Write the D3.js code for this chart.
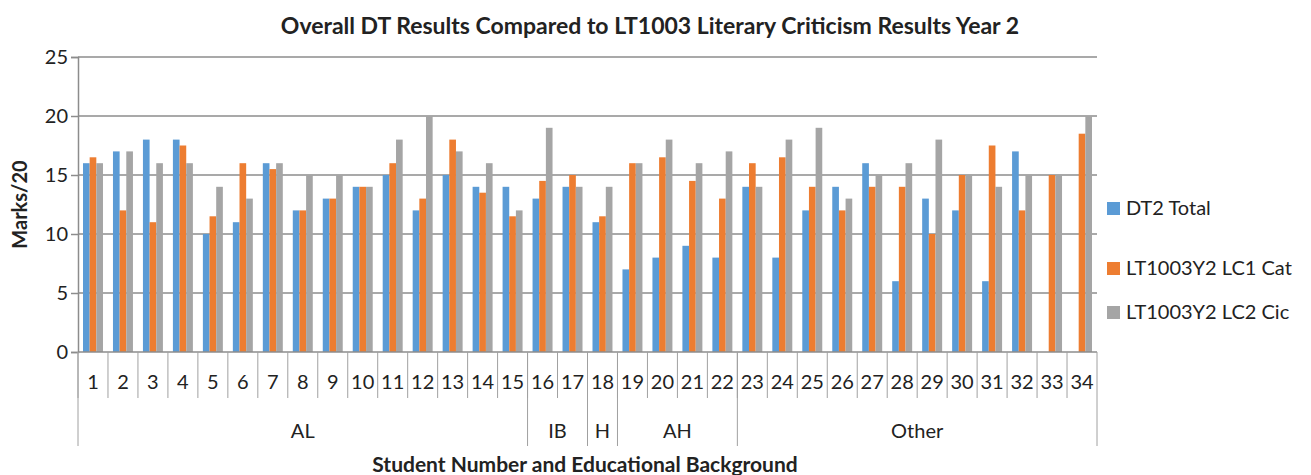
<!DOCTYPE html>
<html>
<head>
<meta charset="utf-8">
<script src="https://cdn.jsdelivr.net/npm/d3@7"></script>
<style>
body { margin: 0; background: #fff; }
text { font-family: Lato, "Open Sans", sans-serif; }
</style>
</head>
<body>
<svg width="1311" height="475"></svg>
<script>
var students = d3.range(1, 35).map(String);
var dt2Total = [16,17,18,18,10,11,16,12,13,14,15,12,15,14,14,13,14,11,7,8,9,8,14,8,12,14,16,6,13,12,6,17,0,0];
var lc1Cat = [16.5,12,11,17.5,11.5,16,15.5,12,13,14,16,13,18,13.5,11.5,14.5,15,11.5,16,16.5,14.5,13,16,16.5,14,12,14,14,10,15,17.5,12,15,18.5];
var lc2Cic = [16,17,16,16,14,13,16,15,15,14,18,20,17,16,12,19,14,14,16,18,16,17,14,18,19,13,15,16,18,15,14,15,15,20];
var seriesNames = ["DT2 Total", "LT1003Y2 LC1 Cat", "LT1003Y2 LC2 Cic"];
var colors = ["#5b9bd5", "#ed7d31", "#a5a5a5"];
var groups = [
  { name: "AL", from: 1, to: 15 },
  { name: "IB", from: 16, to: 17 },
  { name: "H", from: 18, to: 18 },
  { name: "AH", from: 19, to: 22 },
  { name: "Other", from: 23, to: 34 }
];
var yTicks = [0, 5, 10, 15, 20, 25];

var svg = d3.select("svg");
var pLeft = 78, pRight = 1097, pTop = 57, pBottom = 352;

var x = d3.scaleBand().domain(students).range([pLeft, pRight]).paddingInner(0).paddingOuter(0);
var y = d3.scaleLinear().domain([0, 25]).range([pBottom, pTop]);
var inner = x.bandwidth() / 4.5;
var xs = d3.scaleBand().domain([0, 1, 2]).range([inner * 0.75, x.bandwidth() - inner * 0.75]);

// title
svg.append("text")
  .attr("x", 650).attr("y", 34)
  .attr("text-anchor", "middle")
  .attr("font-size", "23px").attr("font-weight", "bold")
  .attr("fill", "#222")
  .text("Overall DT Results Compared to LT1003 Literary Criticism Results Year 2");

// gridlines
svg.append("g").selectAll("line")
  .data(yTicks.filter(function (d) { return d > 0; }))
  .enter().append("line")
  .attr("x1", pLeft).attr("x2", pRight)
  .attr("y1", function (d) { return y(d); }).attr("y2", function (d) { return y(d); })
  .attr("stroke", "#8c8c8c").attr("stroke-width", 1.5);

// y axis
var yAxis = svg.append("g")
  .attr("transform", "translate(" + pLeft + ",0)")
  .call(d3.axisLeft(y).tickValues(yTicks).tickSize(7).tickPadding(3));
yAxis.select(".domain").attr("stroke", "#8c8c8c").attr("stroke-width", 1.5);
yAxis.selectAll(".tick line").attr("stroke", "#8c8c8c").attr("stroke-width", 1.5);
yAxis.selectAll("text").attr("font-size", "20px").attr("fill", "#222")
  .attr("font-family", "Lato, 'Open Sans', sans-serif");

svg.append("text")
  .attr("transform", "translate(27," + ((pTop + pBottom) / 2) + ") rotate(-90)")
  .attr("text-anchor", "middle")
  .attr("font-size", "20px").attr("font-weight", "bold").attr("fill", "#222")
  .text("Marks/20");

// bars
var series = [dt2Total, lc1Cat, lc2Cic];
series.forEach(function (vals, si) {
  svg.append("g").selectAll("rect")
    .data(vals)
    .enter().append("rect")
    .attr("x", function (d, i) { return x(students[i]) + xs(si); })
    .attr("y", function (d) { return y(d); })
    .attr("width", xs.bandwidth())
    .attr("height", function (d) { return pBottom - y(d); })
    .attr("fill", colors[si]);
});

// x axis line
svg.append("line")
  .attr("x1", pLeft).attr("x2", pRight)
  .attr("y1", pBottom).attr("y2", pBottom)
  .attr("stroke", "#8c8c8c").attr("stroke-width", 1.5);

// category ticks
var xg = svg.append("g");
xg.selectAll("line.cat")
  .data(students)
  .enter().append("line")
  .attr("class", "cat")
  .attr("x1", function (d) { return x(d); }).attr("x2", function (d) { return x(d); })
  .attr("y1", pBottom).attr("y2", 398)
  .attr("stroke", "#a0a0a0").attr("stroke-width", 1);
xg.selectAll("text")
  .data(students)
  .enter().append("text")
  .attr("x", function (d) { return x(d) + x.bandwidth() / 2; })
  .attr("y", 389)
  .attr("text-anchor", "middle")
  .attr("font-size", "20px").attr("fill", "#222")
  .text(function (d) { return d; });

// group dividers and labels
var gg = svg.append("g");
var edges = groups.map(function (g) { return x(String(g.from)); }).concat([pRight]);
gg.selectAll("line")
  .data(edges)
  .enter().append("line")
  .attr("x1", function (d) { return d; }).attr("x2", function (d) { return d; })
  .attr("y1", pBottom).attr("y2", 446)
  .attr("stroke", "#a0a0a0").attr("stroke-width", 1);
gg.selectAll("text")
  .data(groups)
  .enter().append("text")
  .attr("x", function (g) { return (x(String(g.from)) + x(String(g.to)) + x.bandwidth()) / 2; })
  .attr("y", 438)
  .attr("text-anchor", "middle")
  .attr("font-size", "20px").attr("fill", "#222")
  .text(function (g) { return g.name; });

svg.append("text")
  .attr("x", 585).attr("y", 472)
  .attr("text-anchor", "middle")
  .attr("font-size", "21px").attr("font-weight", "bold").attr("fill", "#222")
  .text("Student Number and Educational Background");

// legend
var legendY = [208, 268, 312];
var lg = svg.append("g").selectAll("g")
  .data(seriesNames)
  .enter().append("g")
  .attr("transform", function (d, i) { return "translate(1107," + legendY[i] + ")"; });
lg.append("rect")
  .attr("x", 0).attr("y", -6).attr("width", 13).attr("height", 13)
  .attr("fill", function (d, i) { return colors[i]; });
lg.append("text")
  .attr("x", 19).attr("y", 7)
  .attr("font-size", "20px").attr("fill", "#222")
  .text(function (d) { return d; });
</script>
</body>
</html>
